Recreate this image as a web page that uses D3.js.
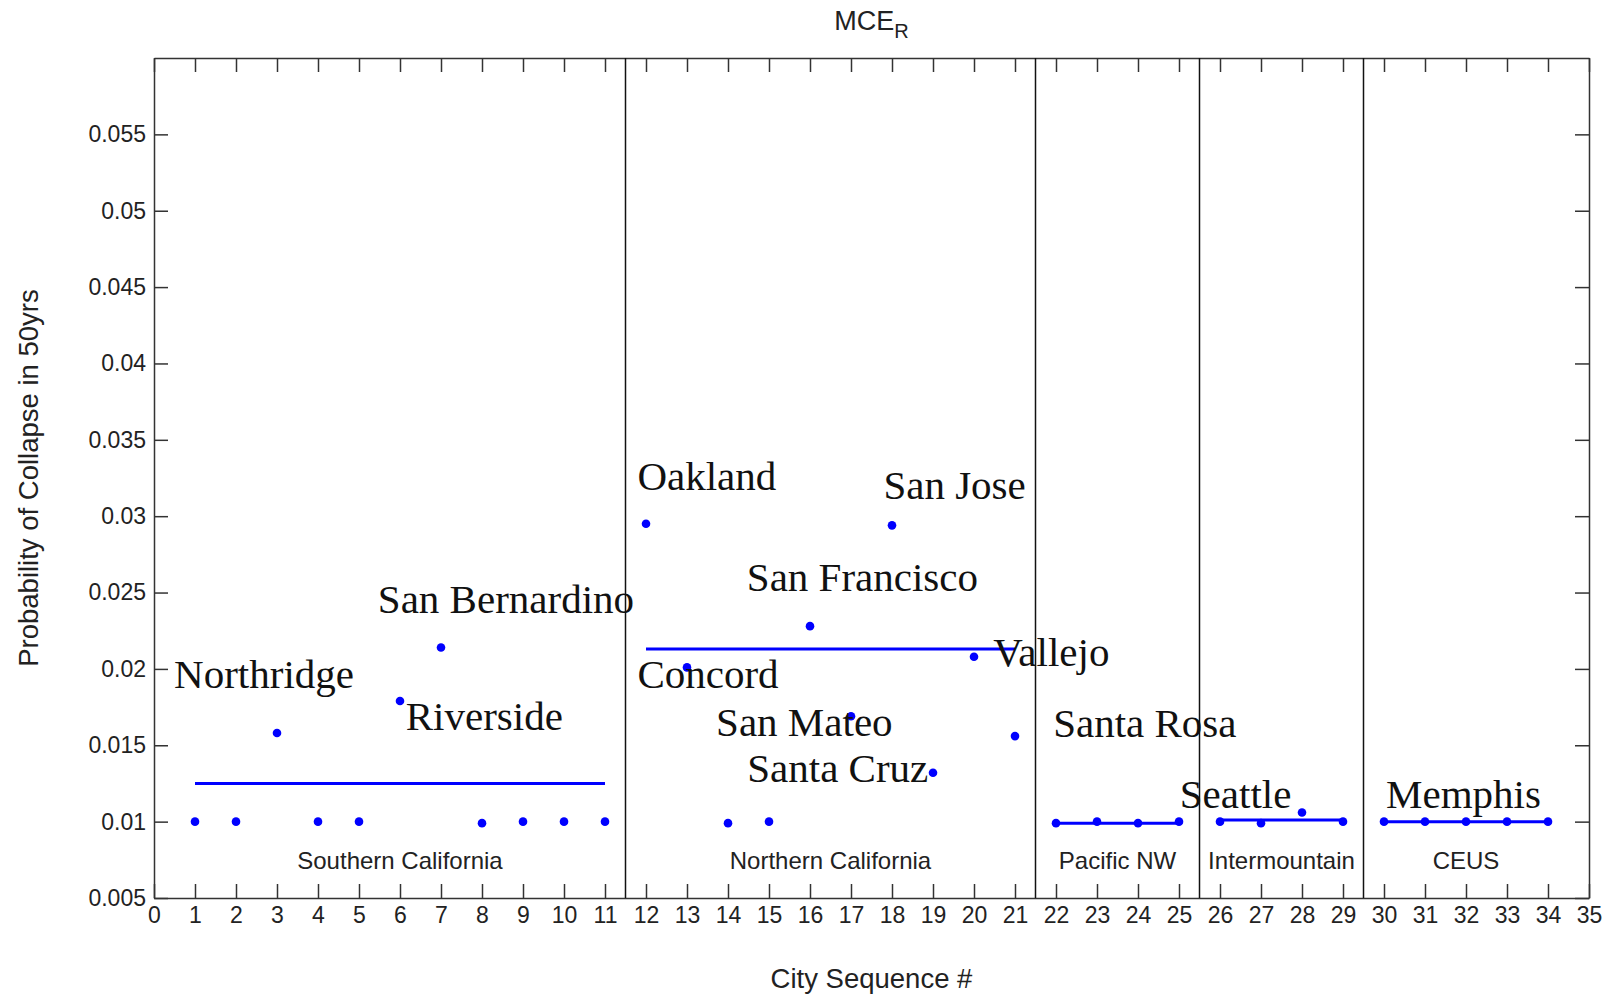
<!DOCTYPE html>
<html>
<head>
<meta charset="utf-8">
<script src="https://cdn.jsdelivr.net/npm/d3@7"></script>
<style>
  body { margin: 0; background: #fff; }
  svg { display: block; }
</style>
</head>
<body>
<div id="chart"></div>
<script>
// City sequence numbers and probability of collapse in 50 yrs
const cityNums = d3.range(1, 35);
const collapseProb = [
    0.0100, 0.0100, 0.0158, 0.0100, 0.0100, 0.0179, 0.0214, 0.0099, 0.0100, 0.0100, 0.0100,
    0.0295, 0.0201, 0.0099, 0.0100, 0.0228, 0.0169, 0.0294, 0.0132, 0.0208, 0.0156,
    0.0099, 0.0100, 0.0099, 0.0100,
    0.0100, 0.0099, 0.0106, 0.0100,
    0.0100, 0.0100, 0.0100, 0.0100, 0.0100
];

// Regions
const regionNames = ["Southern California", "Northern California", "Pacific NW", "Intermountain", "CEUS"];
const regionFirst = [1, 12, 22, 26, 30];
const regionLast = [11, 21, 25, 29, 34];
const regionLevel = [0.0125, 0.0213, 0.0099, 0.0101, 0.0100];

// City name annotations (anchor in data units)
const cityNames = ["Northridge", "San Bernardino", "Riverside", "Oakland", "San Jose", "San Francisco",
    "Concord", "Vallejo", "San Mateo", "Santa Cruz", "Santa Rosa", "Seattle", "Memphis"];
const nameX = [0.49, 5.46, 6.14, 11.79, 17.79, 14.46, 11.79, 20.47, 13.71, 14.47, 21.93, 25.02, 30.05];
const nameY = [0.01875, 0.02368, 0.0160, 0.03171, 0.03113, 0.0251, 0.01873, 0.02021, 0.01561, 0.01261, 0.01554, 0.01089, 0.01089];

const xTicks = d3.range(0, 36);
const yTicks = [0.005, 0.01, 0.015, 0.02, 0.025, 0.03, 0.035, 0.04, 0.045, 0.05, 0.055];

const W = 1606, H = 996;
const margin = {top: 58, right: 17, bottom: 98, left: 154};
const width = W - margin.left - margin.right;
const height = H - margin.top - margin.bottom;

const svg = d3.select("#chart").append("svg")
    .attr("width", W)
    .attr("height", H)
    .style("font-family", "'Liberation Sans', Arial, sans-serif");

const g = svg.append("g")
    .attr("transform", "translate(" + margin.left + "," + margin.top + ")");

const x = d3.scaleLinear().domain([0, 35]).range([0, width]);
const y = d3.scaleLinear().domain([0.005, 0.06]).range([height, 0]);

const tickLen = 14;
const axisColor = "#333";

// Axes (ticks pointing inward, mirrored on top/right)
const xAxis = g.append("g")
    .attr("transform", "translate(0," + height + ")")
    .call(d3.axisBottom(x).tickValues(xTicks).tickFormat(d3.format("d")).tickSizeInner(-tickLen).tickSizeOuter(0).tickPadding(9));
const xTop = g.append("g")
    .call(d3.axisTop(x).tickValues(xTicks).tickFormat("").tickSizeInner(-tickLen).tickSizeOuter(0));
const yAxis = g.append("g")
    .call(d3.axisLeft(y).tickValues(yTicks).tickFormat(d => String(+d.toFixed(3))).tickSizeInner(-tickLen).tickSizeOuter(0).tickPadding(8));
const yRight = g.append("g")
    .attr("transform", "translate(" + width + ",0)")
    .call(d3.axisRight(y).tickValues(yTicks).tickFormat("").tickSizeInner(-tickLen).tickSizeOuter(0));

[xAxis, xTop, yAxis, yRight].forEach(a => {
    a.selectAll("path, line").attr("stroke", axisColor).attr("stroke-width", 1.5);
    a.selectAll("text").attr("font-size", 23).attr("fill", "#222")
        .style("font-family", "'Liberation Sans', Arial, sans-serif");
});
xAxis.selectAll("text").attr("dy", "0.71em");

// Region separators
const seps = regionLast.slice(0, -1).map(d => d + 0.5);
g.selectAll(".sep").data(seps).enter().append("line")
    .attr("x1", d => x(d)).attr("x2", d => x(d))
    .attr("y1", 0).attr("y2", height)
    .attr("stroke", "#111").attr("stroke-width", 1.5);

// Region level lines
g.selectAll(".lvl").data(regionNames).enter().append("line")
    .attr("x1", (d, i) => x(regionFirst[i]))
    .attr("x2", (d, i) => x(regionLast[i]))
    .attr("y1", (d, i) => y(regionLevel[i]))
    .attr("y2", (d, i) => y(regionLevel[i]))
    .attr("stroke", "#0000ff").attr("stroke-width", 3);

// Points
g.selectAll(".pt").data(cityNums).enter().append("circle")
    .attr("cx", d => x(d))
    .attr("cy", (d, i) => y(collapseProb[i]))
    .attr("r", 4.3)
    .attr("fill", "#0000ff");

// Region names
g.selectAll(".rname").data(regionNames).enter().append("text")
    .attr("x", (d, i) => x((regionFirst[i] + regionLast[i]) / 2))
    .attr("y", y(0.0069))
    .attr("text-anchor", "middle")
    .attr("font-size", 24)
    .attr("fill", "#222")
    .text(d => d);

// City names
g.selectAll(".cname").data(cityNames).enter().append("text")
    .attr("x", (d, i) => x(nameX[i]))
    .attr("y", (d, i) => y(nameY[i]))
    .attr("font-size", 41)
    .attr("fill", "#111")
    .style("font-family", "'Liberation Serif', 'Times New Roman', serif")
    .text(d => d);

// Title
const title = svg.append("text")
    .attr("x", margin.left + width / 2)
    .attr("y", 30)
    .attr("text-anchor", "middle")
    .attr("font-size", 27)
    .attr("fill", "#222");
title.append("tspan").text("MCE");
title.append("tspan").attr("font-size", 20).attr("dy", 8).text("R");

// Axis titles
svg.append("text")
    .attr("x", margin.left + width / 2)
    .attr("y", 988)
    .attr("text-anchor", "middle")
    .attr("font-size", 27.5)
    .attr("fill", "#222")
    .text("City Sequence #");

svg.append("text")
    .attr("transform", "translate(38," + (margin.top + height / 2) + ") rotate(-90)")
    .attr("text-anchor", "middle")
    .attr("font-size", 27.5)
    .attr("fill", "#222")
    .text("Probability of Collapse in 50yrs");
</script>
</body>
</html>
